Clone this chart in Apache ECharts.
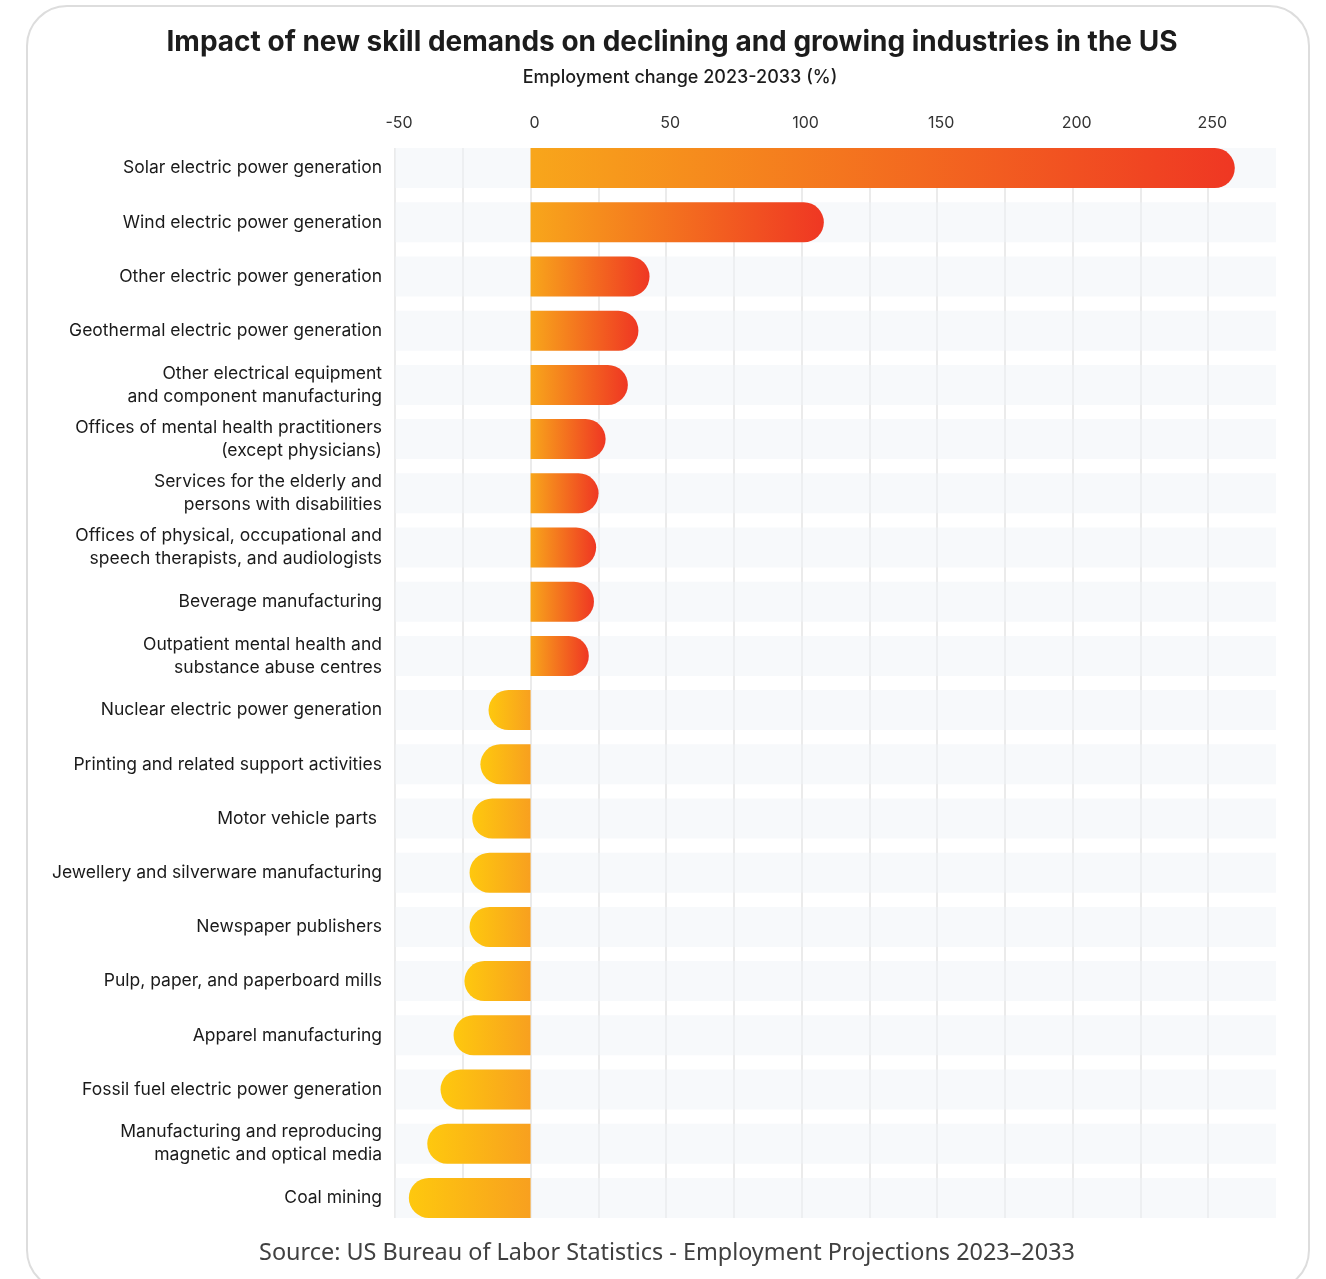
<!DOCTYPE html>
<html>
<head>
<meta charset="utf-8">
<title>Impact of new skill demands on declining and growing industries in the US</title>
<script src="https://cdn.jsdelivr.net/npm/echarts@6/dist/echarts.min.js"></script>
<style>
  html, body { margin: 0; padding: 0; background: #ffffff; }
  #chart { width: 1326px; height: 1279px; }
</style>
</head>
<body>
<div id="chart"></div>
<script>
// Industries, top to bottom
const industries = [
  'Solar electric power generation',
  'Wind electric power generation',
  'Other electric power generation',
  'Geothermal electric power generation',
  'Other electrical equipment\nand component manufacturing',
  'Offices of mental health practitioners\n(except physicians)',
  'Services for the elderly and\npersons with disabilities',
  'Offices of physical, occupational and\nspeech therapists, and audiologists',
  'Beverage manufacturing',
  'Outpatient mental health and\nsubstance abuse centres',
  'Nuclear electric power generation',
  'Printing and related support activities',
  'Motor vehicle parts ',
  'Jewellery and silverware manufacturing',
  'Newspaper publishers',
  'Pulp, paper, and paperboard mills',
  'Apparel manufacturing',
  'Fossil fuel electric power generation',
  'Manufacturing and reproducing\nmagnetic and optical media',
  'Coal mining'
];

// Employment change 2023-2033 (%)
const employmentChange = [
  259.8, 108.2, 43.9, 39.8, 35.9, 27.7, 25.1, 24.2, 23.4, 21.5,
  -15.5, -18.5, -21.5, -22.5, -22.5, -24.4, -28.4, -33.2, -38.1, -44.9
];

// Value axis range and step between grid lines
const axisMin = -50;
const axisMax = 275;
const gridStep = 25;
const labelStep = 50;

const growColors = ['#f8a61b', '#ef3723'];
const declineColors = ['#fec80e', '#f8a01f'];

function gradient(colors) {
  return new echarts.graphic.LinearGradient(0, 0, 1, 0, [
    { offset: 0, color: colors[0] },
    { offset: 1, color: colors[1] }
  ]);
}

const barData = employmentChange.map(v => ({
  value: v,
  itemStyle: {
    color: gradient(v >= 0 ? growColors : declineColors),
    borderRadius: v >= 0 ? [0, 20, 20, 0] : [20, 0, 0, 20]
  }
}));

const chart = echarts.init(document.getElementById('chart'), null, { renderer: 'canvas' });

const sansFont = 'Inter, "Noto Sans", sans-serif';

const gridBox = { left: 395, right: 50, top: 141, bottom: 54 };
const barHeight = 40;
const rowGap = (54.2 - barHeight) / 2;

chart.setOption({
  backgroundColor: '#ffffff',
  animation: false,
  title: [
    {
      text: 'Impact of new skill demands on declining and growing industries in the US',
      left: 667,
      textAlign: 'center',
      top: 24,
      textStyle: { fontFamily: sansFont, fontSize: 28, fontWeight: 700, color: '#1c1c1c' }
    },
    {
      text: 'Employment change 2023-2033 (%)',
      left: 675,
      textAlign: 'center',
      top: 64,
      textStyle: { fontFamily: sansFont, fontSize: 18, fontWeight: 500, color: '#1c1c1c' }
    }
  ],
  graphic: [
    {
      type: 'rect',
      shape: { x: 27, y: 6, width: 1282, height: 1284, r: 40 },
      style: { fill: 'none', stroke: '#dddddd', lineWidth: 2 },
      silent: true,
      z: -10
    },
    // trim grid lines to the extent of the row bands
    {
      type: 'rect',
      shape: { x: 380, y: gridBox.top - 2, width: 920, height: rowGap + 2 },
      style: { fill: '#ffffff' },
      silent: true,
      z: 1
    },
    {
      type: 'rect',
      shape: { x: 380, y: 1279 - gridBox.bottom - rowGap, width: 920, height: 9 },
      style: { fill: '#ffffff' },
      silent: true,
      z: 1
    },
    {
      type: 'text',
      x: 667,
      y: 1253,
      style: {
        text: 'Source: US Bureau of Labor Statistics - Employment Projections 2023\u20132033',
        font: '400 23.4px "Noto Sans", sans-serif',
        fill: '#404040',
        align: 'center',
        verticalAlign: 'middle'
      }
    }
  ],
  grid: Object.assign({ containLabel: false }, gridBox),
  xAxis: {
    type: 'value',
    position: 'top',
    min: axisMin,
    max: axisMax,
    interval: gridStep,
    axisLine: { show: false },
    axisTick: { show: false },
    splitLine: { show: true, showMaxLine: false, lineStyle: { color: '#ebebeb', width: 2 } },
    axisLabel: {
      margin: 10,
      padding: [0, 0, 0, 8],
      fontFamily: sansFont,
      fontSize: 16,
      color: '#333333',
      showMaxLabel: false,
      formatter: v => (v % labelStep === 0 ? String(v) : '')
    }
  },
  yAxis: {
    type: 'category',
    data: industries,
    inverse: true,
    axisLine: { show: false },
    axisTick: { show: false },
    axisLabel: {
      margin: 13,
      fontFamily: sansFont,
      fontSize: 17.5,
      lineHeight: 23,
      color: '#1a1a1a',
      align: 'right'
    }
  },
  series: [
    {
      type: 'bar',
      data: barData,
      barWidth: barHeight,
      showBackground: true,
      backgroundStyle: { color: 'rgba(240,243,247,0.5)' },
      z: 2
    }
  ]
});
</script>
</body>
</html>
